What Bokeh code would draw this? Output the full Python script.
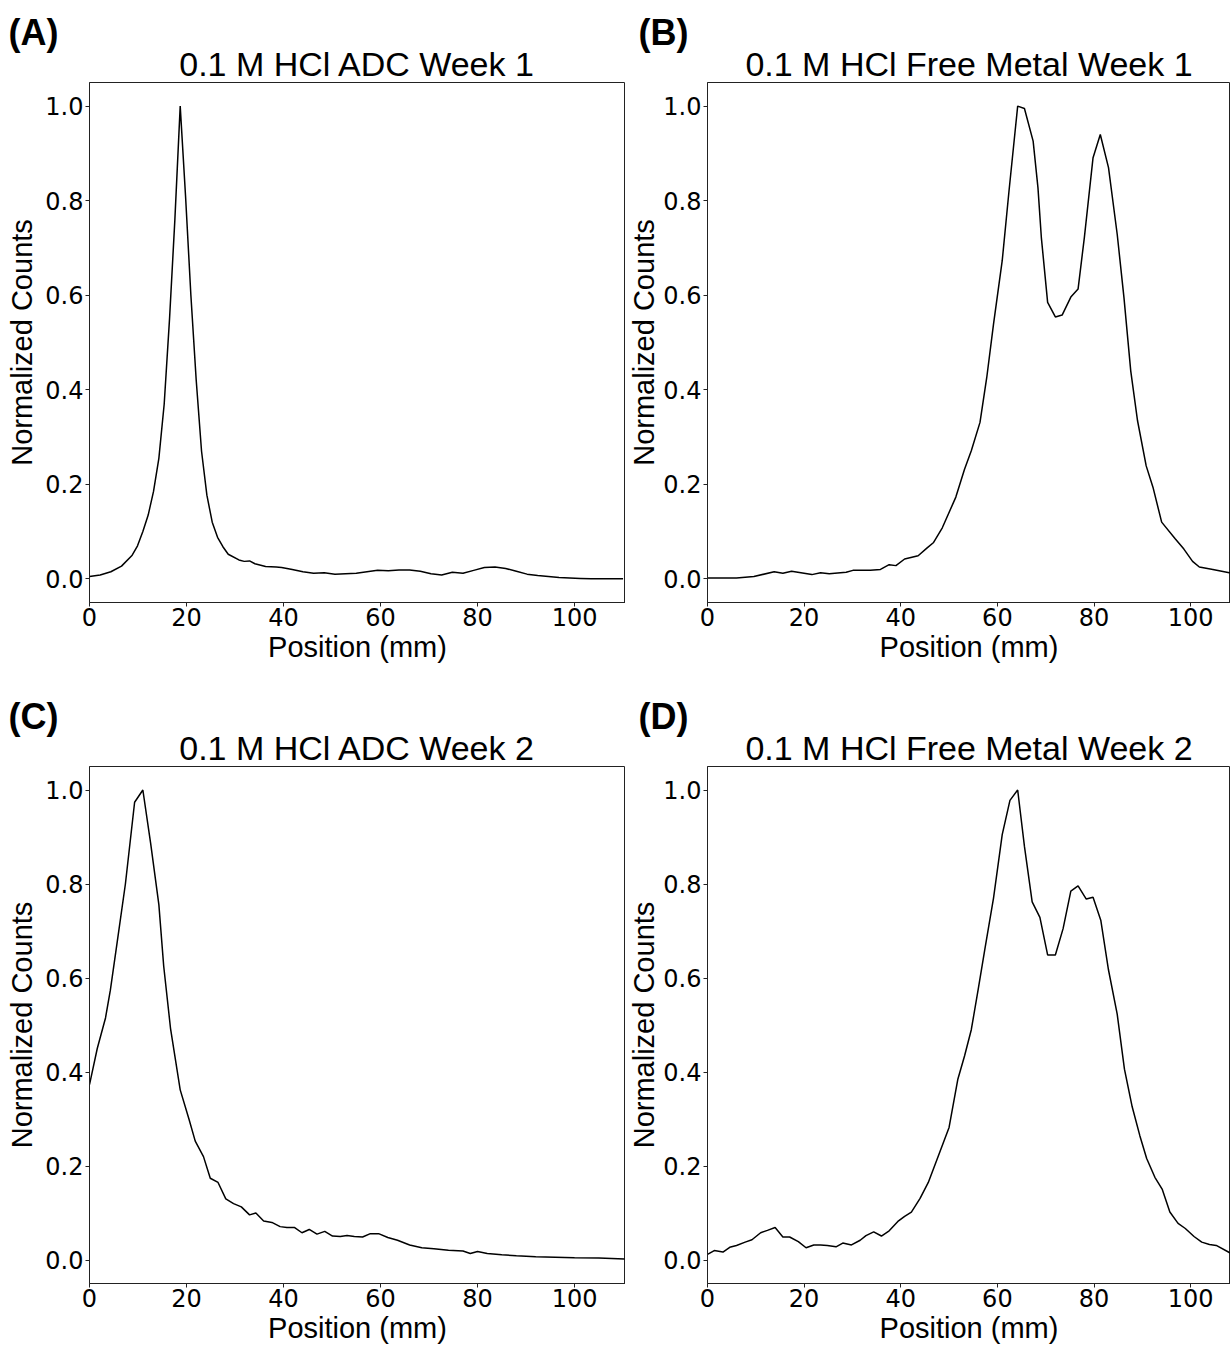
from bokeh.plotting import figure
from bokeh.models import Range1d, FixedTicker, PrintfTickFormatter, Title
from bokeh.layouts import column, row
from bokeh.embed import file_html
from bokeh.resources import INLINE

# ---------------- data ----------------
X_TICKS = [0, 20, 40, 60, 80, 100]
Y_TICKS = [0.0, 0.2, 0.4, 0.6, 0.8, 1.0]

titles = ["0.1 M HCl ADC Week 1", "0.1 M HCl Free Metal Week 1",
          "0.1 M HCl ADC Week 2", "0.1 M HCl Free Metal Week 2"]
letters = ["(A)", "(B)", "(C)", "(D)"]

a_pos = [0, 2.2, 4.4, 6.6, 8.8, 9.9, 11.0, 12.1, 13.2, 14.3, 15.4, 16.5, 17.6, 18.7, 19.8,
         20.9, 22.0, 23.1, 24.2, 25.3, 26.4, 27.5, 28.6, 30.8, 31.9, 33.0, 34.1, 36.3, 38.5,
         39.6, 41.8, 44.0, 46.2, 48.4, 50.6, 52.8, 55.0, 57.2, 59.4, 61.6, 63.8, 66.0, 68.2,
         70.4, 72.6, 74.8, 77.0, 79.2, 81.4, 83.6, 85.8, 88.0, 90.2, 92.4, 94.6, 96.8, 99.0,
         101.2, 103.4, 105.6, 107.8, 110.0]
a_val = [0.005, 0.008, 0.015, 0.027, 0.050, 0.070, 0.100, 0.135, 0.185, 0.255, 0.370, 0.550,
         0.760, 1.000, 0.810, 0.600, 0.420, 0.270, 0.177, 0.120, 0.088, 0.068, 0.052, 0.040,
         0.037, 0.038, 0.032, 0.026, 0.025, 0.024, 0.020, 0.015, 0.012, 0.013, 0.010, 0.011,
         0.012, 0.015, 0.018, 0.017, 0.019, 0.019, 0.016, 0.011, 0.008, 0.014, 0.012, 0.018,
         0.024, 0.025, 0.022, 0.016, 0.010, 0.007, 0.005, 0.003, 0.002, 0.001, 0.000, 0.000,
         0.000, 0.000]

b_pos = [0, 6.0, 9.6, 13.8, 15.6, 17.4, 21.6, 23.4, 25.2, 28.7, 30.1, 33.7, 35.8, 37.6, 39.0,
         40.8, 43.6, 45.4, 46.8, 48.6, 51.4, 53.2, 54.6, 56.4, 57.8, 59.2, 61.0, 62.4, 64.2,
         65.6, 67.4, 68.4, 69.1, 70.4, 72.0, 73.4, 75.2, 76.7, 78.0, 79.8, 81.3, 83.0, 84.8,
         86.2, 87.6, 89.0, 90.8, 92.2, 94.0, 96.8, 98.6, 100.4, 101.8, 104.6, 108.0, 110.3]
b_val = [0.002, 0.002, 0.005, 0.015, 0.012, 0.016, 0.009, 0.013, 0.011, 0.014, 0.018, 0.018,
         0.020, 0.030, 0.028, 0.042, 0.049, 0.065, 0.077, 0.108, 0.173, 0.232, 0.271, 0.331,
         0.426, 0.539, 0.673, 0.820, 1.000, 0.995, 0.926, 0.827, 0.722, 0.585, 0.554, 0.558,
         0.596, 0.613, 0.722, 0.891, 0.940, 0.870, 0.729, 0.595, 0.440, 0.335, 0.239, 0.194,
         0.120, 0.085, 0.063, 0.037, 0.025, 0.020, 0.013, 0.010]

c_pos = [0, 1.6, 3.3, 4.3, 5.7, 7.4, 9.3, 11.0, 12.6, 14.3, 15.3, 16.7, 18.7, 20.5, 21.8,
         23.5, 24.9, 26.5, 28.1, 29.7, 31.3, 33.0, 34.3, 35.9, 37.6, 39.3, 40.7, 42.3, 43.8,
         45.3, 46.9, 48.5, 50.1, 51.7, 53.1, 54.6, 56.3, 57.9, 59.6, 61.5, 63.5, 66.0, 68.5,
         71.0, 74.0, 77.0, 78.5, 80.0, 82.0, 85.0, 88.0, 92.0, 96.0, 100.0, 105.0, 110.3]
c_val = [0.373, 0.450, 0.515, 0.574, 0.676, 0.800, 0.974, 1.000, 0.887, 0.756, 0.625, 0.493,
         0.362, 0.300, 0.253, 0.220, 0.174, 0.165, 0.130, 0.120, 0.113, 0.096, 0.100, 0.083,
         0.080, 0.071, 0.069, 0.069, 0.058, 0.065, 0.055, 0.061, 0.051, 0.050, 0.052, 0.050,
         0.049, 0.056, 0.056, 0.048, 0.042, 0.032, 0.026, 0.024, 0.021, 0.019, 0.014, 0.018,
         0.014, 0.011, 0.009, 0.007, 0.006, 0.005, 0.004, 0.002]

d_pos = [0, 1.4, 3.2, 4.6, 6.0, 7.8, 9.2, 11.0, 12.4, 14.0, 15.6, 17.0, 18.8, 20.4, 22.0,
         23.4, 24.8, 26.6, 28.0, 29.8, 31.6, 32.8, 34.4, 36.0, 37.6, 39.4, 40.8, 42.2, 44.0,
         45.7, 47.5, 50.0, 51.8, 53.2, 54.6, 56.0, 57.4, 59.2, 61.0, 62.6, 64.2, 65.6, 67.2,
         68.8, 70.4, 72.0, 73.6, 75.2, 76.7, 78.4, 79.8, 81.4, 83.0, 84.8, 86.3, 87.9, 89.5,
         90.9, 92.6, 94.1, 95.7, 97.4, 98.9, 100.7, 102.3, 103.9, 105.3, 108.0, 110.3]
d_val = [0.012, 0.020, 0.017, 0.027, 0.031, 0.038, 0.043, 0.058, 0.063, 0.069, 0.049, 0.049,
         0.039, 0.026, 0.032, 0.032, 0.031, 0.028, 0.036, 0.032, 0.042, 0.052, 0.060, 0.051,
         0.062, 0.082, 0.093, 0.102, 0.131, 0.165, 0.214, 0.282, 0.384, 0.434, 0.490, 0.574,
         0.661, 0.770, 0.905, 0.978, 1.000, 0.880, 0.762, 0.729, 0.649, 0.649, 0.705, 0.785,
         0.796, 0.768, 0.772, 0.723, 0.617, 0.523, 0.406, 0.326, 0.264, 0.216, 0.176, 0.151,
         0.102, 0.078, 0.067, 0.050, 0.038, 0.033, 0.031, 0.016, 0.010]

# ---------------- styling ----------------
LABEL_FONT = "Liberation Sans"
TICK_FONT = "DejaVu Sans"
SPINE = "#222222"


def make_panel(letter, title, xs, ys, width, height, left, right, top, bottom,
               xmax, letter_offset, title_offset, ylabel_standoff):
    p = figure(width=width, height=height, output_backend="svg", toolbar_location=None,
               x_range=Range1d(0, xmax), y_range=Range1d(-0.05, 1.05),
               min_border_left=left, min_border_right=right,
               min_border_top=top, min_border_bottom=bottom, title=None)
    p.line(xs, ys, line_color="black", line_width=1.5)

    p.background_fill_color = "white"
    p.border_fill_color = "white"
    p.outline_line_color = SPINE
    p.outline_line_width = 1
    p.xgrid.visible = False
    p.ygrid.visible = False

    for ax in (p.xaxis[0], p.yaxis[0]):
        ax.axis_line_color = SPINE
        ax.major_tick_line_color = SPINE
        ax.major_tick_out = 4
        ax.major_tick_in = 0
        ax.minor_tick_line_color = None
        ax.major_label_text_font = TICK_FONT
        ax.major_label_text_font_size = "24px"
        ax.major_label_text_color = "black"
        ax.axis_label_text_font = LABEL_FONT
        ax.axis_label_text_font_size = "29px"
        ax.axis_label_text_font_style = "normal"
        ax.axis_label_text_color = "black"

    p.xaxis.ticker = FixedTicker(ticks=X_TICKS)
    p.xaxis.formatter = PrintfTickFormatter(format="%d")
    p.xaxis.axis_label = "Position (mm)"
    p.xaxis.major_label_standoff = 1
    p.xaxis.axis_label_standoff = 2

    p.yaxis.ticker = FixedTicker(ticks=Y_TICKS)
    p.yaxis.formatter = PrintfTickFormatter(format="%.1f")
    p.yaxis.axis_label = "Normalized Counts"
    p.yaxis.major_label_standoff = 2
    p.yaxis.axis_label_standoff = ylabel_standoff

    # main title (closest to the frame)
    main = Title(text=title, align="center", text_font=LABEL_FONT, text_font_size="34px",
                 text_font_style="normal", text_color="black", standoff=0, offset=title_offset)
    p.add_layout(main, "above")
    # panel letter, tucked close above the title
    lab = Title(text=letter, align="left", text_font=LABEL_FONT, text_font_size="36px",
                text_font_style="bold", text_color="black", standoff=-20, offset=letter_offset)
    p.add_layout(lab, "above")
    return p


WA, WB = 625, 605
H1, H2 = 684, 662

pa = make_panel(letters[0], titles[0], a_pos, a_val, WA, H1, 89, 0, 82, 82, 110.5, -81, 0, 4)
pb = make_panel(letters[1], titles[1], b_pos, b_val, WB, H1, 80, 0, 82, 82, 108.25, -69, 5, 0)
pc = make_panel(letters[2], titles[2], c_pos, c_val, WA, H2, 89, 0, 82, 63, 110.5, -81, 0, 4)
pd = make_panel(letters[3], titles[3], d_pos, d_val, WB, H2, 80, 0, 82, 63, 108.25, -69, 5, 0)

layout = column(row(pa, pb), row(pc, pd))

with open("out.html", "w") as f:
    f.write(file_html(layout, INLINE))
